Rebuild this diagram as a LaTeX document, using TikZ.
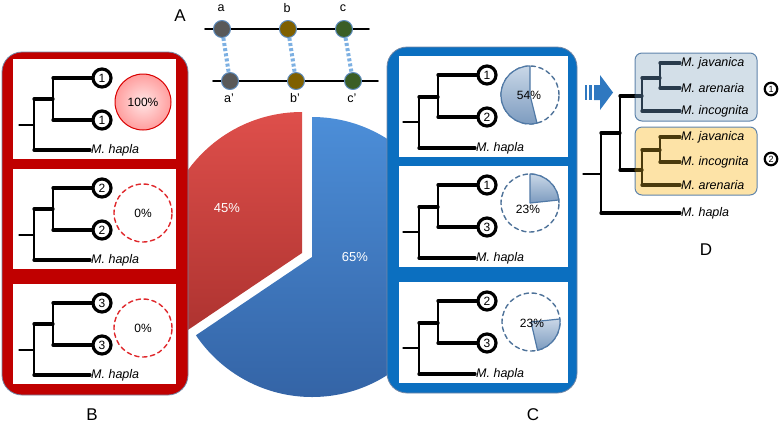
\documentclass[tikz,border=0pt]{standalone}
\usepackage{fontspec}
\setmainfont{Liberation Sans}

\definecolor{panelred}{HTML}{C00000}
\definecolor{panelblue}{HTML}{0B6FC0}
\definecolor{panelrim}{HTML}{7488A6}
\definecolor{pieredtop}{HTML}{DE4F4B}
\definecolor{pieredbot}{HTML}{AE3330}
\definecolor{piebluetop}{HTML}{4C8ED8}
\definecolor{piebluebot}{HTML}{3464A6}
\definecolor{dashred}{HTML}{E0282C}
\definecolor{dashblue}{HTML}{4E7299}
\definecolor{slicetop}{HTML}{C9D7E7}
\definecolor{slicebot}{HTML}{7C9BBF}
\definecolor{sliceedge}{HTML}{5079A6}
\definecolor{genea}{HTML}{595959}
\definecolor{geneb}{HTML}{7F6000}
\definecolor{genec}{HTML}{3B5E26}
\definecolor{geneedge}{HTML}{5E8CBE}
\definecolor{pairlink}{HTML}{7DB0E2}
\definecolor{cladeonefill}{HTML}{D3DFE8}
\definecolor{cladetwofill}{HTML}{FDE3A7}
\definecolor{cladeedge}{HTML}{5F84AC}
\definecolor{cladeone}{HTML}{293B4C}
\definecolor{cladetwo}{HTML}{4A3A0C}
\definecolor{arrowblue}{HTML}{2F78C0}

\begin{document}
\begin{tikzpicture}[x=1pt,y=-1pt,line cap=round,line join=round,
    branch/.style={line width=3.3pt},
    stem/.style={line width=2.5pt},
    root/.style={line width=1.3pt},
    numcirc/.style={circle,draw,fill=white,line width=3.2pt,inner sep=0pt,minimum size=18pt,font=\fontsize{12}{12}\selectfont},
    smallnum/.style={circle,draw,fill=white,line width=2.2pt,inner sep=0pt,minimum size=12.5pt,font=\fontsize{9}{9}\selectfont},
    taxon/.style={font=\fontsize{12.5}{14}\selectfont\itshape,inner sep=1pt,anchor=west},
    gene/.style={circle,draw=geneedge,line width=1pt,minimum size=17pt,inner sep=0pt},
    letter/.style={font=\fontsize{12.5}{12.5}\selectfont,inner sep=1pt},
    panellabel/.style={font=\fontsize{17}{17}\selectfont},
    pct/.style={font=\fontsize{12}{12}\selectfont,inner sep=0pt},
    redring/.style={circle,minimum size=58pt,inner sep=0pt,draw=dashred,line width=1.4pt,dash pattern=on 4.5pt off 3.5pt},
    bluering/.style={circle,minimum size=58pt,inner sep=0pt,draw=dashblue,line width=1.4pt,dash pattern=on 4.5pt off 3.5pt},
    slice/.style={top color=slicetop,bottom color=slicebot,draw=sliceedge,line width=1.2pt}]

\useasboundingbox (0,0) rectangle (781,424);

% A
\node[panellabel] (labA) at (180,16) {A};
\draw[line width=1.8pt] (205,29) -- (369,29);
\draw[line width=1.8pt] (213,81) -- (378,81);
\foreach \g/\xt/\xb/\col in {a/222/230/genea,b/288/296/geneb,c/344/353/genec} {
    \node[gene,fill=\col] (\g top) at (\xt,29) {};
    \node[gene,fill=\col] (\g bot) at (\xb,81) {};
    \node[letter] (\g name) at (\xt-1,8) {\g};
    \node[letter] (\g pname) at (\xb-1,98) {\g'};
    \draw[pairlink,line width=4pt,line cap=butt,dash pattern=on 3pt off 2.2pt] (\g top) -- (\g bot);
}

% big pie
\shade[top color=pieredtop,bottom color=pieredbot] (302,253) -- ++(-90:141) arc[start angle=-90,end angle=-214,radius=141] -- cycle;
\shade[top color=piebluetop,bottom color=piebluebot] (312,257) -- ++(-90:140) arc[start angle=-90,end angle=146,radius=140] -- cycle;
\node[pct,white,font=\fontsize{13}{13}\selectfont] (redpct) at (227,208) {45\%};
\node[pct,white,font=\fontsize{13}{13}\selectfont] (bluepct) at (355,257) {65\%};

% B
\begin{scope}
    \draw[fill=panelred,draw=panelrim,line width=0.8pt,rounded corners=20pt] (2,52) rectangle (188,395);
    \foreach \k/\yt/\n in {1/59/1,2/169/2,3/284/3} {
        \begin{scope}[shift={(13,\yt)}]
            \fill[white] (0,0) rectangle (163,100);
            \node[numcirc] (Bu\k) at (89,19) {\n};
            \node[numcirc] (Bl\k) at (89,61) {\n};
            \node[taxon] (Bh\k) at (77,91) {M. hapla};
            \coordinate (Bi\k) at (40,40);
            \coordinate (Br\k) at (6,66);
            \draw[root] (Br\k) -- (21,66);
            \draw[stem] (21,40) -- (21,91);
            \draw[branch] (21,40) -- (Bi\k);
            \draw[branch] (21,91) -- (Bh\k.west);
            \draw[stem] (40,19) -- (40,61);
            \draw[branch] (40,19) -- (Bu\k);
            \draw[branch] (40,61) -- (Bl\k);
        \end{scope}
    }
    \node[circle,minimum size=56pt,inner sep=0pt,inner color=red!10,outer color=red!38,draw=red!85!black,line width=1pt,pct] (Bp1) at (143,102) {100\%};
    \node[redring,pct] (Bp2) at (143,213) {0\%};
    \node[redring,pct] (Bp3) at (143,328) {0\%};
    \node[panellabel] (labB) at (92,415) {B};
\end{scope}

% C
\begin{scope}
    \draw[fill=panelblue,draw=panelrim,line width=0.8pt,rounded corners=20pt] (387,47) rectangle (577,393);
    \foreach \yt in {56,166,282} {
        \fill[white] (399,\yt) rectangle (568,\yt+101);
    }
    \foreach \k/\yt/\u/\l in {1/56/1/2,2/166/1/3,3/282/2/3} {
        \begin{scope}[shift={(398,\yt)}]
            \node[numcirc] (Cu\k) at (89,19) {\u};
            \node[numcirc] (Cl\k) at (89,61) {\l};
            \node[taxon] (Ch\k) at (77,92) {M. hapla};
            \coordinate (Ci\k) at (40,41);
            \coordinate (Cr\k) at (5,66);
            \draw[root] (Cr\k) -- (21,66);
            \draw[stem] (21,41) -- (21,92);
            \draw[branch] (21,41) -- (Ci\k);
            \draw[branch] (21,92) -- (Ch\k.west);
            \draw[stem] (40,19) -- (40,61);
            \draw[branch] (40,19) -- (Cu\k);
            \draw[branch] (40,61) -- (Cl\k);
        \end{scope}
    }
    \node[bluering] (Cp1) at (530,95) {};
    \node[bluering] (Cp2) at (530,203) {};
    \node[bluering] (Cp3) at (531,322) {};
    \shadedraw[slice] (Cp1.center) -- ++(-90:29) arc[start angle=-90,end angle=-284,radius=29] -- cycle;
    \shadedraw[slice] (Cp2.center) -- ++(-6:29) arc[start angle=-6,end angle=-90,radius=29] -- cycle;
    \shadedraw[slice] (Cp3.center) -- ++(77:29) arc[start angle=77,end angle=-6,radius=29] -- cycle;
    \node[pct] (Ct1) at (529,95) {54\%};
    \node[pct] (Ct2) at (528,209) {23\%};
    \node[pct] (Ct3) at (532,323) {23\%};
    \node[panellabel] (labC) at (533,415) {C};
\end{scope}

% D
\begin{scope}
    \fill[arrowblue] (585,85) rectangle (587,100);
    \fill[arrowblue] (589,85) rectangle (592,100);
    \fill[arrowblue] (594,85) -- (600,85) -- (600,75) -- (613,92.5) -- (600,110) -- (600,100) -- (594,100) -- cycle;
    \draw[fill=cladeonefill,draw=cladeedge,line width=1pt,rounded corners=7pt] (635,53) rectangle (757,121);
    \draw[fill=cladetwofill,draw=cladeedge,line width=1pt,rounded corners=7pt] (635,127) rectangle (757,195);
    \foreach \n/\y/\sp in {Da1/63/javanica,Da2/88/arenaria,Da3/111/incognita,Db1/137/javanica,Db2/162/incognita,Db3/185/arenaria} {
        \node[taxon] (\n) at (680,\y) {M. \sp};
    }
    \node[taxon] (Dh) at (680,213) {M. hapla};
    \node[smallnum] (Dn1) at (771,89) {1};
    \node[smallnum] (Dn2) at (771,159) {2};
    \draw[root] (583,174) -- (601,174);
    \draw[stem] (601,133) -- (601,213);
    \draw[branch] (601,213) -- (Dh.west);
    \draw[branch] (601,133) -- (620,133);
    \draw[stem] (620,96) -- (620,170);
    \draw[branch] (620,96) -- (636,96);
    \draw[branch] (620,170) -- (636,170);
    \begin{scope}[cladeone]
        \draw[branch] (636,96) -- (642,96);
        \draw[stem] (642,78) -- (642,111);
        \draw[branch] (642,78) -- (660,78);
        \draw[stem] (660,63) -- (660,88);
        \draw[branch] (660,63) -- (Da1.west);
        \draw[branch] (660,88) -- (Da2.west);
        \draw[branch] (642,111) -- (Da3.west);
    \end{scope}
    \begin{scope}[cladetwo]
        \draw[branch] (636,170) -- (642,170);
        \draw[stem] (642,150) -- (642,185);
        \draw[branch] (642,150) -- (660,150);
        \draw[stem] (660,137) -- (660,162);
        \draw[branch] (660,137) -- (Db1.west);
        \draw[branch] (660,162) -- (Db2.west);
        \draw[branch] (642,185) -- (Db3.west);
    \end{scope}
    \node[panellabel] (labD) at (706,250) {D};
\end{scope}

\end{tikzpicture}
\end{document}
